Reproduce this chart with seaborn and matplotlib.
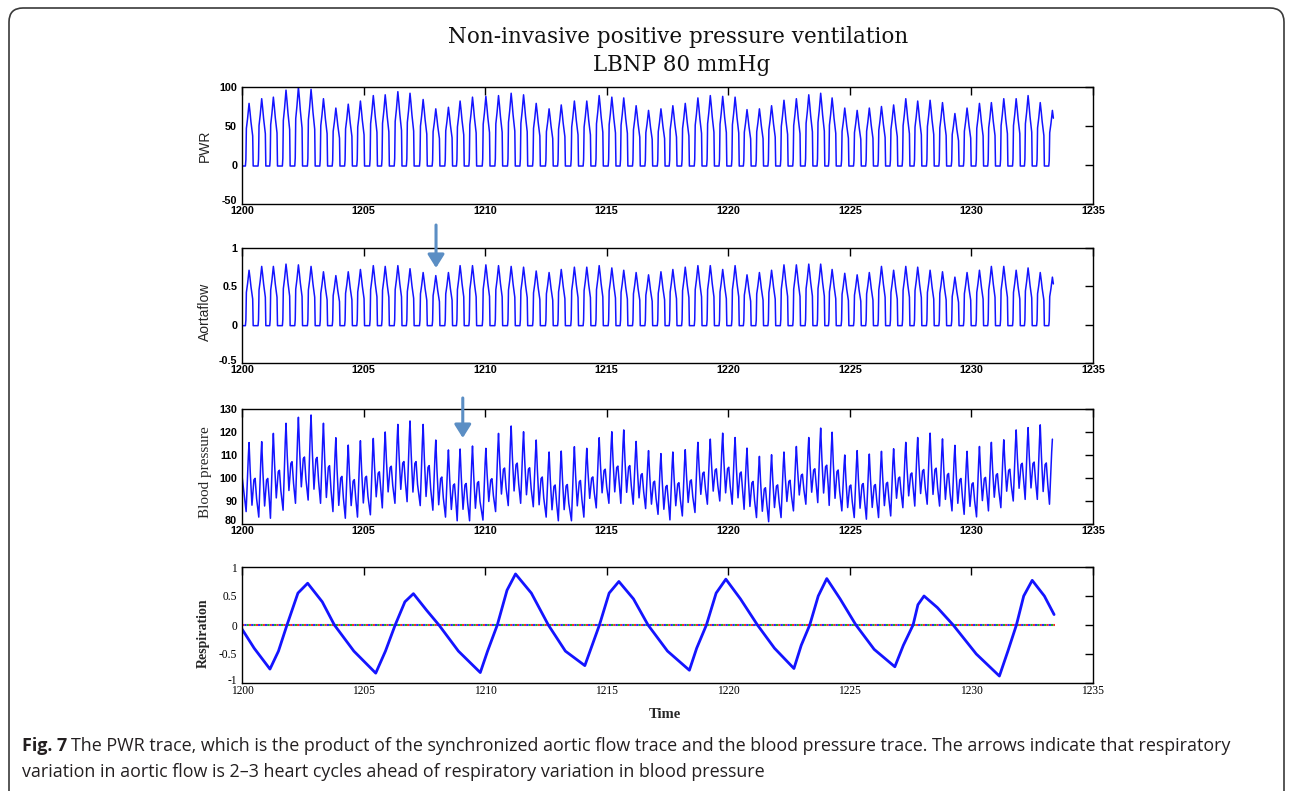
import numpy as np
import matplotlib
matplotlib.use("Agg")
import matplotlib.pyplot as plt
import matplotlib.transforms as mtransforms
from matplotlib.patches import FancyBboxPatch
import seaborn as sns

# ---------------- data ----------------
title_line1 = "Non-invasive positive pressure ventilation"
title_line2 = "LBNP 80 mmHg"
caption_bold = "Fig. 7"
caption_line1 = ("The PWR trace, which is the product of the synchronized aortic flow trace and the "
                 "blood pressure trace. The arrows indicate that respiratory")
caption_line2 = "variation in aortic flow is 2\u20133 heart cycles ahead of respiratory variation in blood pressure"

t_start, t_end = 1200.0, 1233.37

# time of each heart beat peak (s)
beat_times = [1200.29, 1200.81, 1201.29, 1201.81, 1202.32, 1202.84, 1203.35, 1203.86, 1204.37, 1204.87,
              1205.40, 1205.89, 1206.41, 1206.91, 1207.45, 1207.97, 1208.49, 1208.97, 1209.48, 1210.03,
              1210.55, 1211.07, 1211.58, 1212.10, 1212.63, 1213.13, 1213.67, 1214.18, 1214.69, 1215.21,
              1215.70, 1216.21, 1216.72, 1217.23, 1217.72, 1218.23, 1218.75, 1219.26, 1219.77, 1220.28,
              1220.77, 1221.28, 1221.78, 1222.29, 1222.80, 1223.31, 1223.80, 1224.27, 1224.79, 1225.30,
              1225.80, 1226.30, 1226.80, 1227.30, 1227.79, 1228.30, 1228.81, 1229.32, 1229.82, 1230.33,
              1230.82, 1231.33, 1231.84, 1232.33, 1232.83, 1233.33]

pwr_peaks = [79, 85, 87, 96, 100, 97, 85, 73, 78, 82,
             89, 90, 94, 92, 84, 72, 74, 82, 87, 88,
             89, 92, 90, 79, 72, 77, 82, 82, 89, 87,
             86, 76, 70, 72, 76, 79, 86, 89, 88, 87,
             71, 72, 76, 83, 85, 90, 92, 86, 73, 70,
             73, 75, 77, 85, 82, 83, 80, 66, 73, 79,
             80, 85, 85, 89, 80, 70]

aorta_peaks = [0.71, 0.76, 0.76, 0.79, 0.78, 0.76, 0.69, 0.64, 0.69, 0.72,
               0.77, 0.76, 0.77, 0.73, 0.68, 0.64, 0.68, 0.77, 0.77, 0.78,
               0.77, 0.76, 0.75, 0.70, 0.68, 0.72, 0.75, 0.75, 0.77, 0.74,
               0.71, 0.68, 0.65, 0.69, 0.72, 0.75, 0.77, 0.77, 0.72, 0.77,
               0.65, 0.68, 0.71, 0.78, 0.78, 0.79, 0.79, 0.72, 0.67, 0.65,
               0.68, 0.76, 0.71, 0.76, 0.75, 0.71, 0.69, 0.62, 0.68, 0.71,
               0.76, 0.76, 0.71, 0.74, 0.68, 0.62]

bp_systolic = [115.4, 115.8, 119.4, 123.8, 126.4, 127.4, 123.8, 117.5, 114.3, 116.2,
               117.2, 120.0, 123.3, 124.8, 123.3, 116.5, 112.2, 112.6, 113.9, 112.9,
               119.4, 122.6, 120.1, 116.5, 111.3, 111.7, 113.6, 112.9, 117.5, 120.1,
               120.9, 115.9, 111.9, 110.6, 111.3, 112.3, 115.5, 116.9, 119.5, 117.6,
               113.0, 109.4, 110.1, 111.3, 113.7, 117.6, 121.7, 119.9, 110.0, 111.9,
               110.4, 111.6, 112.7, 115.5, 117.6, 119.5, 117.0, 114.2, 111.6, 113.7,
               115.5, 116.6, 120.9, 121.9, 123.1, 116.9]

bp_diastolic = [85.4, 83.0, 82.5, 86.0, 89.0, 90.4, 89.0, 85.4, 82.5, 83.0,
                84.0, 87.0, 89.0, 89.7, 88.0, 86.0, 83.0, 81.4, 81.4, 81.7,
                85.4, 88.0, 89.0, 87.5, 83.0, 81.4, 81.4, 83.0, 87.0, 89.0,
                89.0, 88.6, 86.7, 84.2, 81.8, 83.5, 85.0, 88.6, 90.0, 88.6,
                86.4, 82.8, 81.0, 82.8, 85.7, 88.6, 89.3, 88.1, 85.7, 82.8,
                82.1, 82.8, 83.5, 87.1, 87.8, 88.6, 87.8, 85.7, 84.2, 83.1,
                85.7, 87.1, 90.0, 90.7, 90.7, 88.6]
bp_start = 101.0

resp_times = [1200.0, 1200.5, 1201.15, 1201.5, 1201.85, 1202.3, 1202.7, 1203.3, 1203.8, 1204.6,
              1205.5, 1205.9, 1206.3, 1206.7, 1207.05, 1207.6, 1208.1, 1208.9, 1209.8, 1210.1,
              1210.5, 1210.9, 1211.25, 1211.9, 1212.6, 1213.3, 1214.1, 1214.4, 1214.7, 1215.1,
              1215.5, 1216.1, 1216.7, 1217.5, 1218.4, 1218.7, 1219.1, 1219.5, 1219.9, 1220.5,
              1221.2, 1221.9, 1222.7, 1223.0, 1223.35, 1223.7, 1224.05, 1224.6, 1225.25, 1226.0,
              1226.85, 1227.2, 1227.6, 1227.8, 1228.05, 1228.6, 1229.25, 1230.2, 1231.15, 1231.5,
              1231.85, 1232.15, 1232.5, 1233.0, 1233.4]
resp_values = [-0.07, -0.40, -0.76, -0.45, 0.0, 0.55, 0.72, 0.40, 0.0, -0.45,
               -0.83, -0.45, 0.0, 0.40, 0.54, 0.25, 0.0, -0.45, -0.82, -0.45,
               0.0, 0.60, 0.88, 0.55, 0.0, -0.45, -0.70, -0.35, 0.0, 0.55,
               0.75, 0.45, 0.0, -0.45, -0.78, -0.40, 0.0, 0.55, 0.79, 0.45,
               0.0, -0.40, -0.75, -0.35, 0.0, 0.50, 0.80, 0.45, 0.0, -0.42,
               -0.72, -0.35, 0.0, 0.35, 0.50, 0.30, 0.0, -0.50, -0.88, -0.45,
               0.0, 0.50, 0.77, 0.50, 0.18]

x_ticks = [1200, 1205, 1210, 1215, 1220, 1225, 1230, 1235]
x_tick_labels = ["1200", "1205", "1210", "1215", "1220", "1225", "1230", "1235"]
pwr_ticks = [-50, 0, 50, 100]
pwr_tick_labels = ["-50", "0", "50", "100"]
aorta_ticks = [-0.5, 0, 0.5, 1]
aorta_tick_labels = ["-0.5", "0", "0.5", "1"]
bp_ticks = [80, 90, 100, 110, 120, 130]
bp_tick_labels = ["80", "90", "100", "110", "120", "130"]
resp_ticks = [-1, -0.5, 0, 0.5, 1]
resp_tick_labels = ["-1", "-0.5", "0", "0.5", "1"]

arrow_flow_time = 1207.98
arrow_bp_time = 1209.08

# beat waveform shape (offset from peak in s, fraction of peak)
flow_dt = [-0.15, -0.13, -0.11, -0.06, 0.0, 0.04, 0.08, 0.12, 0.15, 0.17]
flow_frac = [0.0, 0.1, 0.6, 0.76, 1.0, 0.86, 0.7, 0.58, 0.48, 0.0]


def pulse_trace(peaks, base):
    t = [t_start]
    y = [base]
    for T, P in zip(beat_times, peaks):
        for d, f in zip(flow_dt, flow_frac):
            t.append(T + d)
            y.append(base + f * (P - base))
    t = np.array(t)
    y = np.array(y)
    keep = t <= t_end
    return t[keep], y[keep]


def bp_trace():
    t = [t_start]
    y = [bp_start]
    n = len(beat_times)
    for i in range(n):
        T, S, D = beat_times[i], bp_systolic[i], bp_diastolic[i]
        Dn = bp_diastolic[i + 1] if i + 1 < n else D
        t += [T - 0.12, T - 0.03, T, T + 0.05, T + 0.12, T + 0.20, T + 0.25, T + 0.31]
        y += [D, D + 0.8 * (S - D), S, Dn + 0.6 * (S - Dn), Dn + 0.16 * (S - Dn),
              Dn + 0.5 * (S - Dn), Dn + 0.52 * (S - Dn), Dn + 0.25 * (S - Dn)]
    t = np.array(t)
    y = np.array(y)
    keep = t <= t_end
    return t[keep], y[keep]


# ---------------- figure ----------------
sns.set_style("white")
plt.rcParams["font.family"] = ["DejaVu Sans"]

W, H = 1290, 791
fig = plt.figure(figsize=(W / 100, H / 100), dpi=100)
fig.patch.set_facecolor("white")


def fx(px):
    return px / W


def fy(py):
    return 1 - py / H


BLUE = "#1414ff"
TICKFONT = dict(fontsize=7.8, fontweight="bold", family="Liberation Sans")
L, R = 242, 1093
panels = [(87, 204), (248, 363), (409, 524), (567, 683)]
axes = [fig.add_axes([fx(L), fy(b), (R - L) / W, (b - t) / H]) for t, b in panels]

pt, py_ = pulse_trace(pwr_peaks, -1.3)
sns.lineplot(x=pt, y=py_, ax=axes[0], color=BLUE, linewidth=1.1, estimator=None, sort=False)
at, ay = pulse_trace(aorta_peaks, -0.013)
sns.lineplot(x=at, y=ay, ax=axes[1], color=BLUE, linewidth=1.1, estimator=None, sort=False)
bt, by = bp_trace()
sns.lineplot(x=bt, y=by, ax=axes[2], color=BLUE, linewidth=1.1, estimator=None, sort=False)

ax4 = axes[3]
zero_x = [resp_times[0], resp_times[-1] + 0.05]
for col, off in zip(["#ff2a2a", "#20b020", "#2a2aff"], [0.0, 1.1, 2.2]):
    ax4.plot(zero_x, [0, 0], color=col, lw=1.5, linestyle=(off, (1.1, 2.2)))
sns.lineplot(x=resp_times, y=resp_values, ax=ax4, color=BLUE, linewidth=2.0, estimator=None, sort=False)

ylims = [(-50, 100), (-0.5, 1), (80, 130), (-1, 1)]
yticks = [pwr_ticks, aorta_ticks, bp_ticks, resp_ticks]
ylabs = [pwr_tick_labels, aorta_tick_labels, bp_tick_labels, resp_tick_labels]
lift = mtransforms.ScaledTranslation(0, 3.5 / 100, fig.dpi_scale_trans)
for i, ax in enumerate(axes):
    ax.set_xlim(1200, 1235)
    ax.set_ylim(*ylims[i])
    ax.set_xticks(x_ticks)
    ax.set_yticks(yticks[i])
    if i < 3:
        ax.set_xticklabels(x_tick_labels, **TICKFONT)
        ax.set_yticklabels(ylabs[i], **TICKFONT)
    else:
        f = dict(fontsize=8.3, family="Liberation Serif")
        ax.set_xticklabels(x_tick_labels, **f)
        ax.set_yticklabels(ylabs[i], **f)
    ax.tick_params(axis="both", direction="in", length=5.5, width=1.0, top=True, right=True,
                   colors="black")
    ax.tick_params(axis="x", pad=1.5)
    ax.tick_params(axis="y", pad=3.5)
    for s in ax.spines.values():
        s.set_linewidth(1.0)
        s.set_color("black")
        s.set_visible(True)
    ax.set_xlabel("")
    ax.set_ylabel("")
    ax.grid(False)
    # MATLAB places the lowest y label slightly above the corner
    low = ax.get_yticklabels()[0]
    low.set_transform(low.get_transform() + lift)

# y labels
fig.text(fx(205), fy(146), "PWR", rotation=90, ha="center", va="center", fontsize=10,
         family="Liberation Sans")
fig.text(fx(205), fy(312), "Aortaflow", rotation=90, ha="center", va="center", fontsize=10,
         family="Liberation Sans")
fig.text(fx(205), fy(472), "Blood pressure", rotation=90, ha="center", va="center", fontsize=11,
         family="Liberation Serif")
fig.text(fx(203), fy(633), "Respiration", rotation=90, ha="center", va="center", fontsize=10,
         family="Liberation Serif", fontweight="bold")
fig.text(fx(665), fy(715), "Time", ha="center", va="center", fontsize=10.5,
         family="Liberation Serif", fontweight="bold")

# title
fig.text(fx(678), fy(37), title_line1, ha="center", va="center", fontsize=15.5,
         family="DejaVu Serif", color="#111111")
fig.text(fx(682), fy(65), title_line2, ha="center", va="center", fontsize=15.5,
         family="DejaVu Serif", color="#111111")

# arrows
ARROW = "#5b8ec4"
for ax, t_arrow, y_head, y_tail in [(axes[1], arrow_flow_time, 0.74, 1.30),
                                    (axes[2], arrow_bp_time, 117.4, 134.8)]:
    ax.annotate("", xy=(t_arrow, y_head), xytext=(t_arrow, y_tail),
                arrowprops=dict(arrowstyle="-|>,head_length=0.4,head_width=0.25", color=ARROW,
                                lw=2.2, mutation_scale=20, shrinkA=0, shrinkB=0),
                annotation_clip=False)

# caption
CAP = "#231f20"
CAPSIZE = 12.9
cb = fig.text(fx(22), fy(746), caption_bold, ha="left", va="center", fontsize=CAPSIZE,
              family="Open Sans", fontweight="bold", color=CAP)
fig.canvas.draw()
bb = cb.get_window_extent()
fig.text((bb.x1 + 4) / W, fy(746), caption_line1, ha="left", va="center", fontsize=CAPSIZE,
         family="Open Sans", color=CAP)
fig.text(fx(22), fy(772), caption_line2, ha="left", va="center", fontsize=CAPSIZE,
         family="Open Sans", color=CAP)

# rounded frame
frame = FancyBboxPatch((9, H - 806), 1284 - 9, 806 - 8,
                       boxstyle="round,pad=0,rounding_size=14",
                       transform=mtransforms.IdentityTransform(),
                       fill=False, edgecolor="#3a3a3a", lw=1.2)
fig.patches.append(frame)

fig.savefig("out.png", dpi=100, facecolor="white")
